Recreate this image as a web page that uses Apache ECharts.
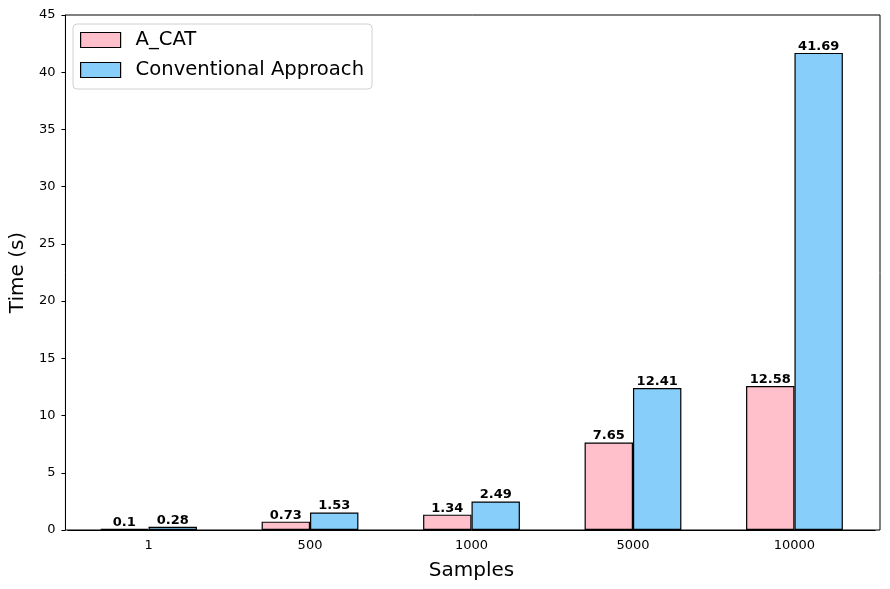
<!DOCTYPE html>
<html>
<head>
<meta charset="utf-8">
<script src="https://cdn.jsdelivr.net/npm/echarts@6/dist/echarts.min.js"></script>
<style>
  html, body { margin: 0; padding: 0; background: #fff; }
  #chart { width: 890px; height: 589px; }
</style>
</head>
<body>
<div id="chart"></div>
<script>
const samples = ['1', '500', '1000', '5000', '10000'];
const acatTimes = [0.1, 0.73, 1.34, 7.65, 12.58];
const conventionalTimes = [0.28, 1.53, 2.49, 12.41, 41.69];
const seriesNames = ['A_CAT', 'Conventional Approach'];

const font = 'DejaVu Sans';

const barLabel = {
	show: true,
	position: 'top',
	distance: 0,
	color: '#000',
	fontWeight: 'bold',
	fontSize: 13,
	fontFamily: font
};

let myChart = echarts.init(document.getElementById('chart'));
let option = {
	animation: false,
	textStyle: { fontFamily: font },
	legend: {
		orient: 'vertical',
		left: 73,
		top: 24,
		icon: 'rect',
		itemWidth: 40,
		itemHeight: 15,
		itemGap: 8,
		padding: [5, 8, 8, 7],
		borderColor: '#d0d0d0',
		borderWidth: 1,
		borderRadius: 4,
		backgroundColor: '#fff',
		itemStyle: { borderWidth: 1.2 },
		textStyle: {
			fontSize: 19.6,
			lineHeight: 22,
			color: '#000',
			fontFamily: font,
			padding: [0, 0, 0, 10]
		},
		data: seriesNames
	},
	grid: [
		// frame and y axis
		{ left: 63, right: 10, top: 15, bottom: 59, show: true, borderColor: '#000', borderWidth: 1 },
		// bars, padded like matplotlib x margins
		{ left: 67.8, right: 14.8, top: 15, bottom: 59 }
	],
	xAxis: [
		{ gridIndex: 0, type: 'value', min: 0, max: 1, show: false },
		{
			gridIndex: 1,
			type: 'category',
			data: samples,
			axisLine: { lineStyle: { color: '#000' } },
			axisTick: { alignWithLabel: true, length: 4, lineStyle: { color: '#000' } },
			axisLabel: { color: '#000', fontSize: 13, margin: 9, fontFamily: font },
			name: 'Samples',
			nameLocation: 'middle',
			nameGap: 31,
			nameTextStyle: { fontSize: 20, color: '#000', fontFamily: font }
		}
	],
	yAxis: [
		{
			gridIndex: 0,
			type: 'value',
			min: 0,
			max: 45,
			interval: 5,
			splitLine: { show: false },
			axisLine: { show: true, lineStyle: { color: '#000' } },
			axisTick: { show: true, length: 4, lineStyle: { color: '#000' } },
			axisLabel: { color: '#000', fontSize: 13, margin: 10, fontFamily: font },
			name: 'Time (s)',
			nameLocation: 'middle',
			nameGap: 36,
			nameTextStyle: { fontSize: 20, color: '#000', fontFamily: font }
		},
		{ gridIndex: 1, type: 'value', min: 0, max: 45, show: false }
	],
	series: [
		{
			name: seriesNames[0],
			type: 'bar',
			xAxisIndex: 1,
			yAxisIndex: 1,
			data: acatTimes,
			barWidth: 48.4,
			barGap: '0%',
			itemStyle: { color: '#FFC0CB', borderColor: '#000', borderWidth: 1.2 },
			label: barLabel
		},
		{
			name: seriesNames[1],
			type: 'bar',
			xAxisIndex: 1,
			yAxisIndex: 1,
			data: conventionalTimes,
			barWidth: 48.4,
			barGap: '0%',
			itemStyle: { color: '#87CEFA', borderColor: '#000', borderWidth: 1.2 },
			label: barLabel
		}
	]
};

myChart.setOption(option);
</script>
</body>
</html>
